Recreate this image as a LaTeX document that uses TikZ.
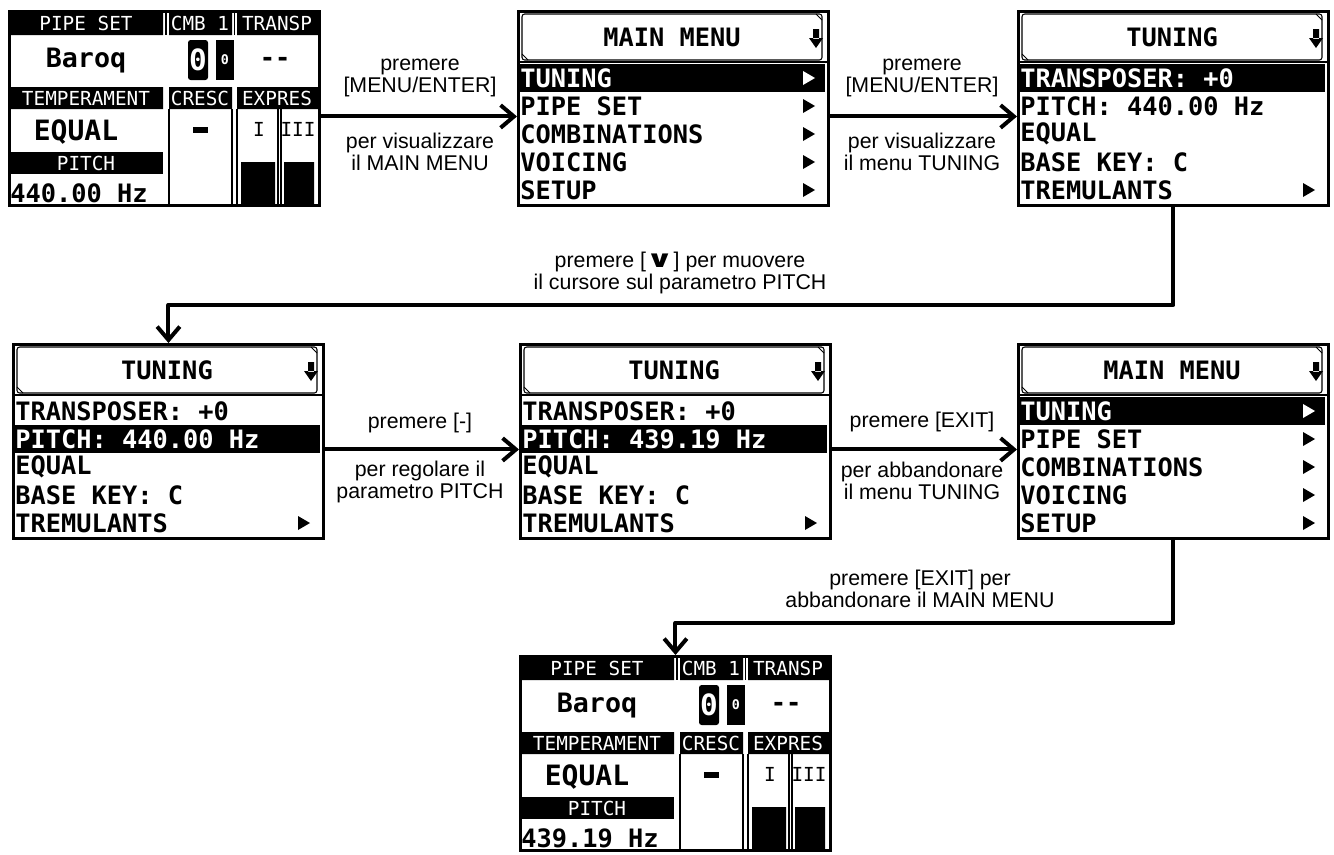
\documentclass[tikz,border=0pt]{standalone}
\usepackage{fontspec}
\setmainfont{Liberation Sans}
\newfontfamily\lcdfont{DejaVu Sans Mono}
\newfontfamily\symfont{DejaVu Sans}
\usetikzlibrary{arrows.meta, positioning, calc}

\tikzset{
  lcd/.style={draw, line width=2.2pt, minimum width=232.5pt, minimum height=145.5pt, inner sep=0pt},
  lcdbig/.style={font=\lcdfont\bfseries\fontsize{19}{19}\selectfont, inner sep=0pt},
  lcdhuge/.style={font=\lcdfont\bfseries\fontsize{21}{21}\selectfont, inner sep=0pt},
  lcdhead/.style={font=\lcdfont\fontsize{14.5}{14.5}\selectfont, inner sep=0pt},
  note/.style={font=\fontsize{16}{16.5}\selectfont, align=center, inner sep=0pt},
  flow/.style={line width=3pt, -{Straight Barb[length=10pt, width=17pt]}, line join=round},
}

% menu display: name, x, y, title, highlighted row, rows (text/arrow)
\newcommand{\lcdmenu}[6]{%
  \begin{scope}[shift={(#2,#3)}]
    \node[lcd, anchor=north west] (#1) at (0,0) {};
    % title bar
    \draw[line width=0.8pt, rounded corners=2pt] (5,4) rectangle (305,50);
    \draw[line width=0.6pt] (299,4) -- (305,10) (5,44) -- (11,50);
    \draw[line width=2pt] (0,52) -- (310,52);
    \node[lcdbig] at (155,27) {#4};
    \fill (296,19) rectangle (302,29) (292,28) -- (306,28) -- (299,38) -- cycle;
    % rows
    \foreach \txt/\arr [count=\i] in {#6} {
      \ifnum\i=#5
        \def\fg{white}
        \fill (2,{26+28*\i}) rectangle (308,{54+28*\i});
      \else
        \def\fg{black}
      \fi
      \node[lcdbig, text=\fg, anchor=west] at (3,{40+28*\i}) {\txt};
      \ifnum\arr=1
        \fill[\fg] (286,{33+28*\i}) -- (286,{47+28*\i}) -- (298,{40+28*\i}) -- cycle;
      \fi
    }
  \end{scope}}

% home display: name, x, y, pitch value
\newcommand{\lcdhome}[4]{%
  \begin{scope}[shift={(#2,#3)}]
    \node[lcd, anchor=north west] (#1) at (0,0) {};
    % header bars
    \fill (0,0) rectangle (155,25) (161,0) rectangle (224,25) (229,0) rectangle (310,25);
    \draw[line width=0.8pt] (158,0) -- (158,25) (226.5,0) -- (226.5,25);
    \node[lcdhead, white] at (78,13) {PIPE SET};
    \node[lcdhead, white] at (192,13) {CMB 1};
    \node[lcdhead, white] at (269,13) {TRANSP};
    \node[lcdbig, font=\lcdfont\bfseries\fontsize{20}{20}\selectfont] at (78,51) {Baroq};
    \fill[rounded corners=2pt] (180,30) rectangle (200,70);
    \node[lcdbig, white, font=\lcdfont\bfseries\fontsize{22}{22}\selectfont] at (190,50) {0};
    \fill (208,30) rectangle (226,70);
    \node[lcdhead, white, font=\lcdfont\bfseries\fontsize{10}{10}\selectfont] at (217,50) {0};
    \node[lcdbig] at (267,52) {--};
    % second header
    \fill (0,77) rectangle (155,99) (161,77) rectangle (224,99) (229,77) rectangle (310,99);
    \node[lcdhead, white] at (78,88) {TEMPERAMENT};
    \node[lcdhead, white] at (192,88) {CRESC};
    \node[lcdhead, white] at (269,88) {EXPRES};
    % columns
    \draw[line width=1.2pt] (161,99) -- (161,195) (224,99) -- (224,195)
      (229,99) -- (229,195) (270,99) -- (270,195) (273,99) -- (273,195);
    \fill (185,117) rectangle (200,123);
    \node[lcdhead] at (251,119) {I};
    \node[lcdhead] at (290,119) {III};
    \fill (233,152) rectangle (267,194) (276,152) rectangle (306,194);
    \node[lcdhuge] at (68,122) {EQUAL};
    \fill (0,142) rectangle (155,164);
    \node[lcdhead, white] at (78,153) {PITCH};
    \node[lcdbig, anchor=west] at (2,183) {#4};
  \end{scope}}

\begin{document}
\begin{tikzpicture}[x=0.75pt, y=-0.75pt]
\useasboundingbox (0,0) rectangle (1334,854);

% first row
\lcdhome{home1}{8}{10}{440.00 Hz}
\lcdmenu{menu1}{517}{10}{MAIN MENU}{1}{TUNING/1, PIPE SET/1, COMBINATIONS/1, VOICING/1, SETUP/1}
\lcdmenu{tune1}{1017}{10}{TUNING}{1}{TRANSPOSER: +0/0, PITCH: 440.00 Hz/0, EQUAL/0, BASE KEY: C/0, TREMULANTS/1}

% second row
\lcdmenu{tune2}{12}{343}{TUNING}{2}{TRANSPOSER: +0/0, PITCH: 440.00 Hz/0, EQUAL/0, BASE KEY: C/0, TREMULANTS/1}
\lcdmenu{tune3}{519}{343}{TUNING}{2}{TRANSPOSER: +0/0, PITCH: 439.19 Hz/0, EQUAL/0, BASE KEY: C/0, TREMULANTS/1}
\lcdmenu{menu2}{1017}{343}{MAIN MENU}{1}{TUNING/1, PIPE SET/1, COMBINATIONS/1, VOICING/1, SETUP/1}

% third row
\lcdhome{home2}{519}{655}{439.19 Hz}

% connectors
\draw[flow] ([yshift=-6pt]home1.east) -- ([yshift=-6pt]menu1.west);
\node[note] (up1) at (420,78) {premere\\{[MENU/ENTER]}};
\node[note] (dn1) at (420,152) {per visualizzare\\il MAIN MENU};

\draw[flow] ([yshift=-6pt]menu1.east) -- ([yshift=-6pt]tune1.west);
\node[note] (up2) at (922,78) {premere\\{[MENU/ENTER]}};
\node[note] (dn2) at (922,152) {per visualizzare\\il menu TUNING};

\draw[flow] (tune1.south) -- ++(0,98) -| (tune2.north);
\node[note] (up3) at (680,273) {premere [{\symfont\bfseries\scalebox{1.6}[1.1]{∨}}] per muovere\\il cursore sul parametro PITCH};

\draw[flow] ([yshift=-6pt]tune2.east) -- ([yshift=-6pt]tune3.west);
\node[note] (up4) at (420,423) {premere [-]};
\node[note] (dn4) at (420,482) {per regolare il\\parametro PITCH};

\draw[flow] ([yshift=-6pt]tune3.east) -- ([yshift=-6pt]menu2.west);
\node[note] (up5) at (922,422) {premere [EXIT]};
\node[note] (dn5) at (922,481) {per abbandonare\\il menu TUNING};

\draw[flow] (menu2.south) -- ++(0,83) -| (home2.north);
\node[note] (up6) at (920,589) {premere [EXIT] per\\abbandonare il MAIN MENU};
\end{tikzpicture}
\end{document}
